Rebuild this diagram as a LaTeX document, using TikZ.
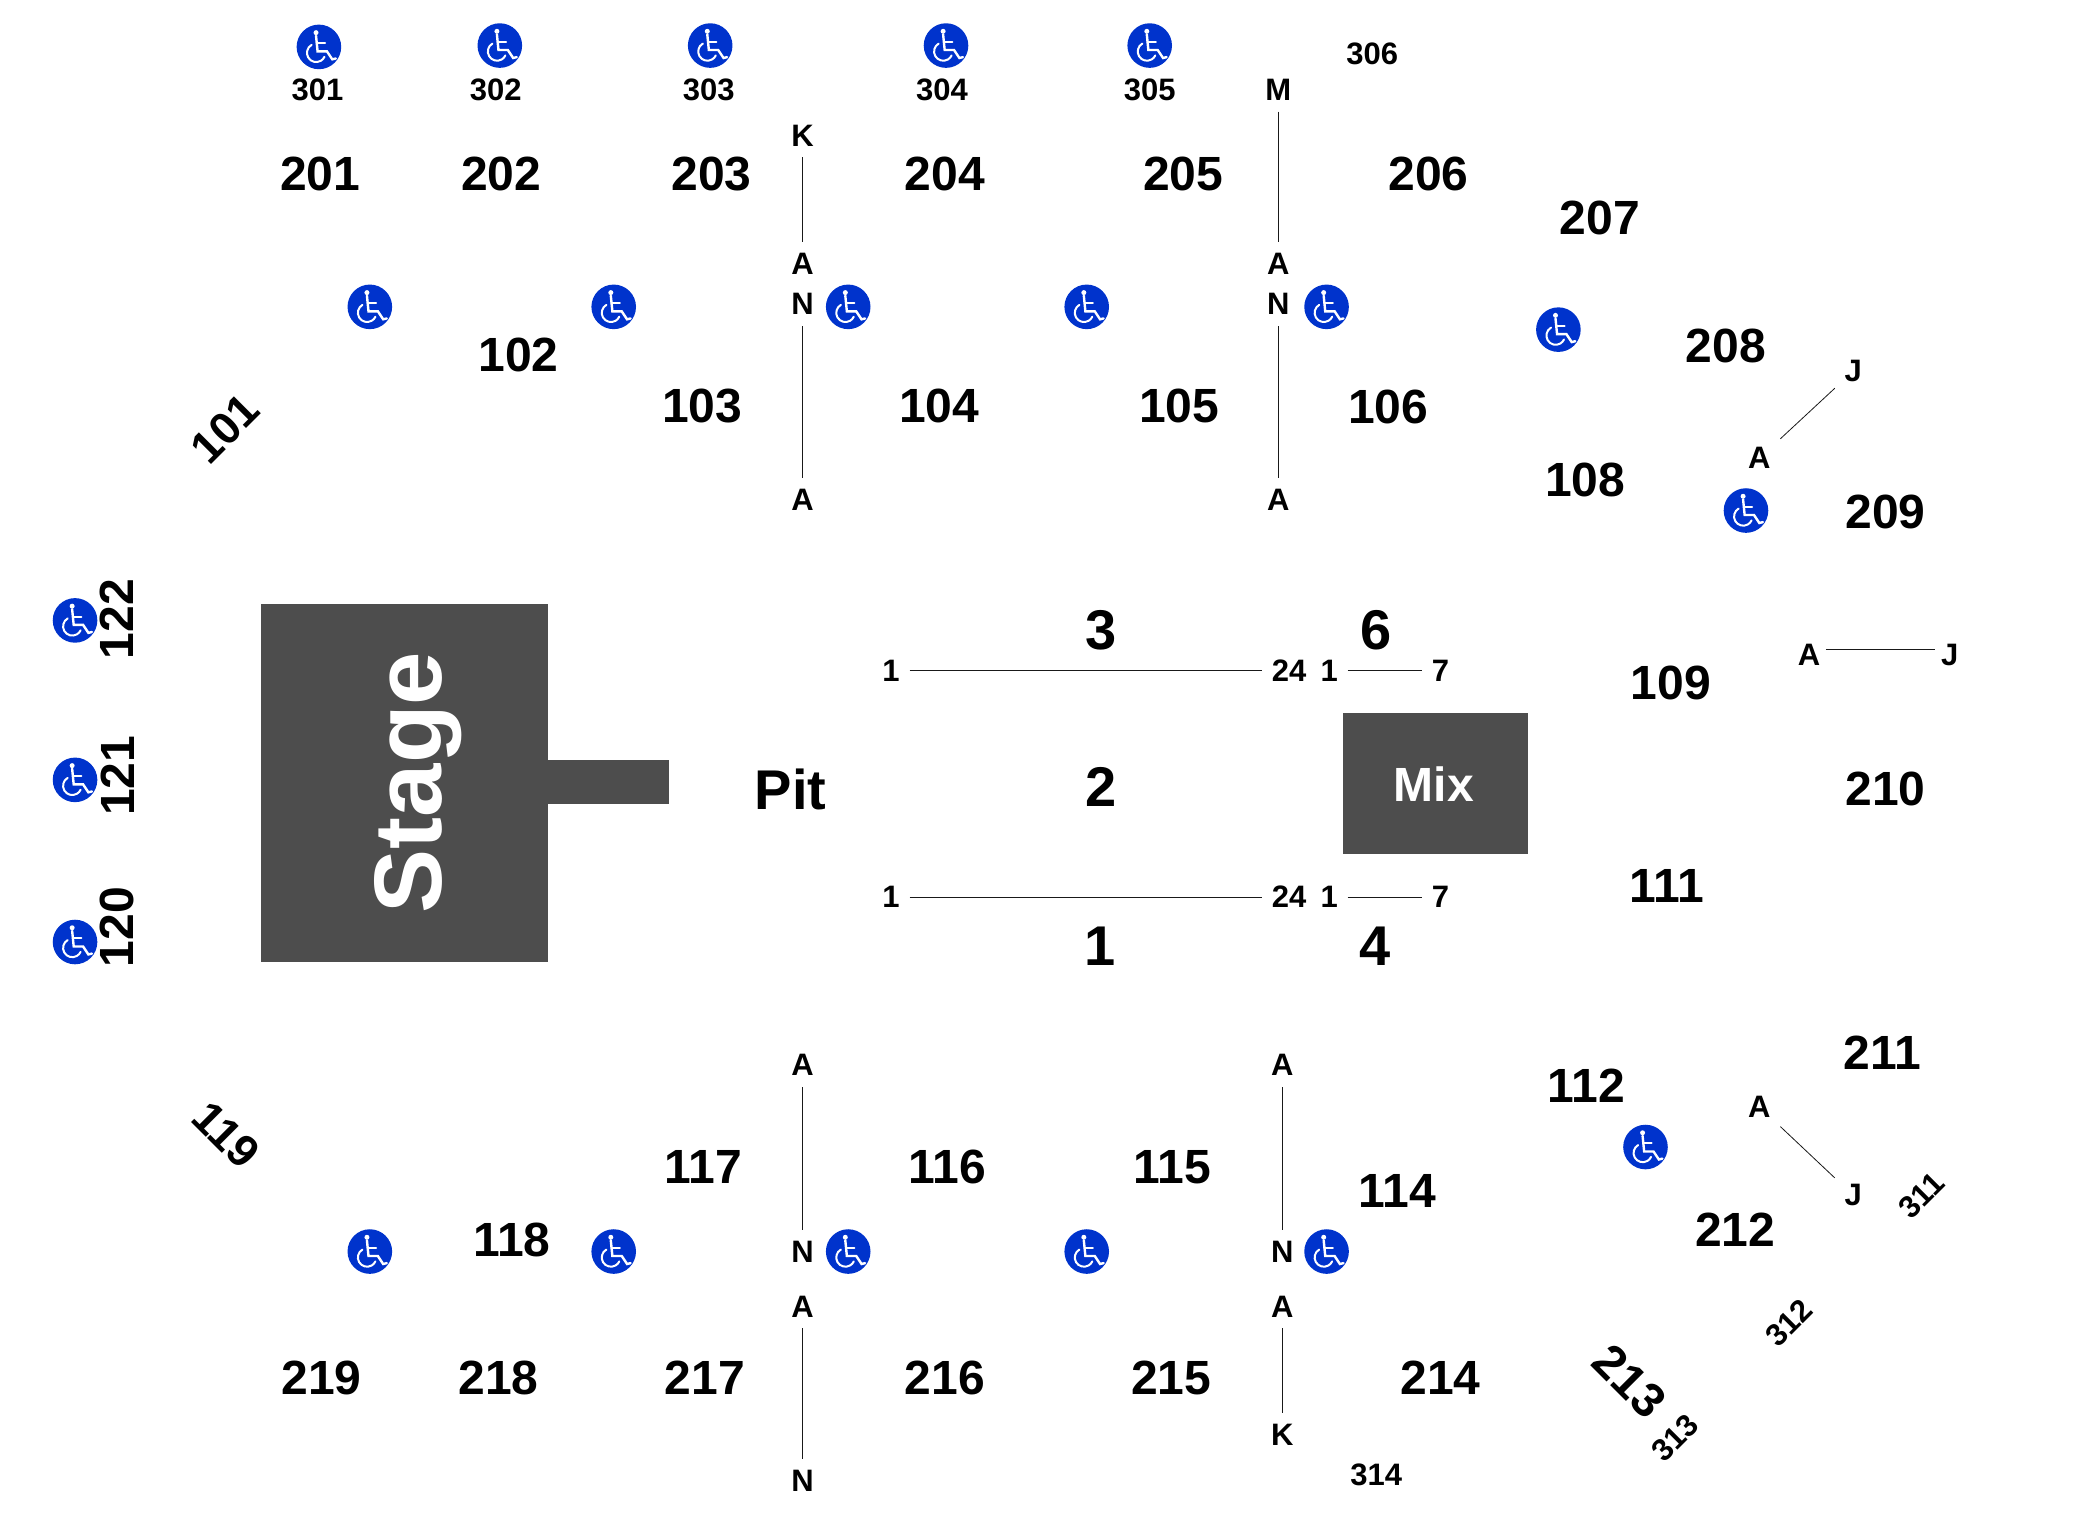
\documentclass[tikz,border=0pt]{standalone}
\usepackage{fontspec}
\setmainfont{Liberation Sans}
\definecolor{stagegray}{HTML}{4D4D4D}
\definecolor{wcblue}{HTML}{0033CC}
\tikzset{
  seclab/.style={inner sep=0pt,font=\fontsize{24}{25}\selectfont\bfseries,text=black},
  diaglab/.style={inner sep=0pt,font=\fontsize{22.5}{24}\selectfont\bfseries,text=black},
  bignum/.style={inner sep=0pt,font=\fontsize{28}{30}\selectfont\bfseries,text=black},
  smallab/.style={inner sep=0pt,font=\fontsize{15.5}{16}\selectfont\bfseries,text=black},
  rowlab/.style={inner xsep=4.7pt,inner ysep=5.4pt,text height=10.7pt,text depth=0pt,font=\fontsize{15.5}{16}\selectfont\bfseries,text=black},
  rowline/.style={draw=black!90,line width=0.4pt},
  block/.style={fill=stagegray,draw=none},
  wcdisc/.style={circle,fill=wcblue,draw=none,minimum size=22.3pt,inner sep=0pt},
}
\newcommand{\wc}[3]{%
  \node[wcdisc] (#1) at (#2,#3) {};
  \begin{scope}[shift={(#2,#3)},x=11.13pt,y=-11.13pt,white,line cap=round]
    \fill (-.13,-.64) circle[radius=1.25pt];
    \draw[line width=1.2pt] (-.13,-.5) -- (-.06,.2) -- (.36,.2) -- (.6,.56) -- (.76,.52);
    \draw[line width=1pt] (-.1,-.17) -- (.28,-.17);
    \draw[line width=1pt] (-.33,-.09) arc[start angle=120,end angle=335,radius=4.6pt];
  \end{scope}}
\begin{document}
\begin{tikzpicture}[x=0.67pt,y=-0.67pt]
\useasboundingbox (0,0) rectangle (1567.2,1134.3);
% stage and mix
\fill[block] (195,451) rectangle (409,718);
\fill[block] (409,567) rectangle (499,600);
\fill[block] (1002,532) rectangle (1140,637);
\node[inner sep=0pt,rotate=90,text=white,font=\fontsize{48}{50}\selectfont\bfseries] (stage) at (312,584) {Stage};
\node[inner sep=0pt,text=white,font=\fontsize{24}{26}\selectfont\bfseries] (mix) at (1070,585) {Mix};
\node[bignum] (pit) at (590,589) {Pit};
% upper 200s
\node[seclab] (s201) at (239,130) {201};
\node[seclab] (s202) at (374,130) {202};
\node[seclab] (s203) at (531,130) {203};
\node[seclab] (s204) at (705,130) {204};
\node[seclab] (s205) at (883,130) {205};
\node[seclab] (s206) at (1066,130) {206};
\node[seclab] (s207) at (1194,163) {207};
\node[seclab] (s208) at (1288,258) {208};
\node[seclab] (s209) at (1407,382) {209};
\node[seclab] (s210) at (1407,589) {210};
\node[seclab] (s211) at (1405,786) {211};
\node[seclab] (s212) at (1295,918) {212};
\node[seclab,rotate=-45] (s213) at (1216,1031) {213};
\node[seclab] (s214) at (1075,1028) {214};
\node[seclab] (s215) at (874,1028) {215};
\node[seclab] (s216) at (705,1028) {216};
\node[seclab] (s217) at (526,1028) {217};
\node[seclab] (s218) at (372,1028) {218};
\node[seclab] (s219) at (240,1028) {219};
% 100s
\node[diaglab,rotate=45] (s101) at (168,320) {101};
\node[seclab] (s102) at (387,265) {102};
\node[seclab] (s103) at (524,303) {103};
\node[seclab] (s104) at (701,303) {104};
\node[seclab] (s105) at (880,303) {105};
\node[seclab] (s106) at (1036,304) {106};
\node[seclab] (s108) at (1183,358) {108};
\node[seclab] (s109) at (1247,510) {109};
\node[seclab] (s111) at (1244,661) {111};
\node[seclab] (s112) at (1184,810) {112};
\node[seclab] (s114) at (1043,889) {114};
\node[seclab] (s115) at (875,871) {115};
\node[seclab] (s116) at (707,871) {116};
\node[seclab] (s117) at (525,871) {117};
\node[seclab] (s118) at (382,925) {118};
\node[diaglab,rotate=-45] (s119) at (169,847) {119};
\node[seclab,rotate=90] (s122) at (87,462) {122};
\node[seclab,rotate=90] (s121) at (88,579) {121};
\node[seclab,rotate=90] (s120) at (87,692) {120};
% floor
\node[bignum] (f3) at (822,470) {3};
\node[bignum] (f6) at (1027,470) {6};
\node[bignum] (f2) at (822,587) {2};
\node[bignum] (f1) at (821,706) {1};
\node[bignum] (f4) at (1026,706) {4};
% 300s
\node[smallab] (s301) at (237,67) {301};
\node[smallab] (s302) at (370,67) {302};
\node[smallab] (s303) at (529,67) {303};
\node[smallab] (s304) at (703,67) {304};
\node[smallab] (s305) at (858,67) {305};
\node[smallab] (s306) at (1024,40) {306};
\node[smallab] (s314) at (1027,1101) {314};
\node[smallab,rotate=45] (s311) at (1434,892) {311};
\node[smallab,rotate=45] (s312) at (1335,987) {312};
\node[smallab,rotate=45] (s313) at (1250,1073) {313};
% row labels and lines
\node[rowlab] (a1) at (599,101) {K};
\node[rowlab] (a2) at (599,197) {A};
\node[rowlab] (a3) at (599,227) {N};
\node[rowlab] (a4) at (599,373) {A};
\node[rowlab] (b1) at (954,67) {M};
\node[rowlab] (b2) at (954,197) {A};
\node[rowlab] (b3) at (954,227) {N};
\node[rowlab] (b4) at (954,373) {A};
\node[rowlab] (c1) at (1383,277) {J};
\node[rowlab] (c2) at (1313,342) {A};
\node[rowlab] (d1) at (1350,489) {A};
\node[rowlab] (d2) at (1455,489) {J};
\node[rowlab] (e1) at (1313,826) {A};
\node[rowlab] (e2) at (1383,892) {J};
\node[rowlab] (g1) at (599,795) {A};
\node[rowlab] (g2) at (599,934) {N};
\node[rowlab] (g3) at (599,975) {A};
\node[rowlab] (g4) at (599,1105) {N};
\node[rowlab] (h1) at (957,795) {A};
\node[rowlab] (h2) at (957,934) {N};
\node[rowlab] (h3) at (957,975) {A};
\node[rowlab] (h4) at (957,1071) {K};
\node[rowlab] (p1) at (665,500.5) {1};
\node[rowlab] (p2) at (962,500.5) {24};
\node[rowlab] (p3) at (992,500.5) {1};
\node[rowlab] (p4) at (1075,500.5) {7};
\node[rowlab] (q1) at (665,669.5) {1};
\node[rowlab] (q2) at (962,669.5) {24};
\node[rowlab] (q3) at (992,669.5) {1};
\node[rowlab] (q4) at (1075,669.5) {7};
\foreach \u/\v in {a1/a2,a3/a4,b1/b2,b3/b4,c1/c2,e1/e2,g1/g2,g3/g4,h1/h2,h3/h4,p1/p2,p3/p4,q1/q2,q3/q4}
  \draw[rowline] (\u) -- (\v);
\draw[rowline] ([xshift=-2pt,yshift=2.7pt]d1.east) -- ([xshift=2pt,yshift=2.7pt]d2.west);
% wheelchair icons
\wc{w1}{238}{35}
\wc{w2}{373}{34}
\wc{w3}{530}{34}
\wc{w4}{706}{34}
\wc{w5}{858}{34}
\wc{w6}{276}{229}
\wc{w7}{458}{229}
\wc{w8}{633}{229}
\wc{w9}{811}{229}
\wc{w10}{990}{229}
\wc{w11}{1163}{246}
\wc{w12}{1303}{381}
\wc{w13}{56}{463}
\wc{w14}{56}{582}
\wc{w15}{56}{703}
\wc{w16}{1228}{856}
\wc{w17}{276}{934}
\wc{w18}{458}{934}
\wc{w19}{633}{934}
\wc{w20}{811}{934}
\wc{w21}{990}{934}
\end{tikzpicture}
\end{document}
